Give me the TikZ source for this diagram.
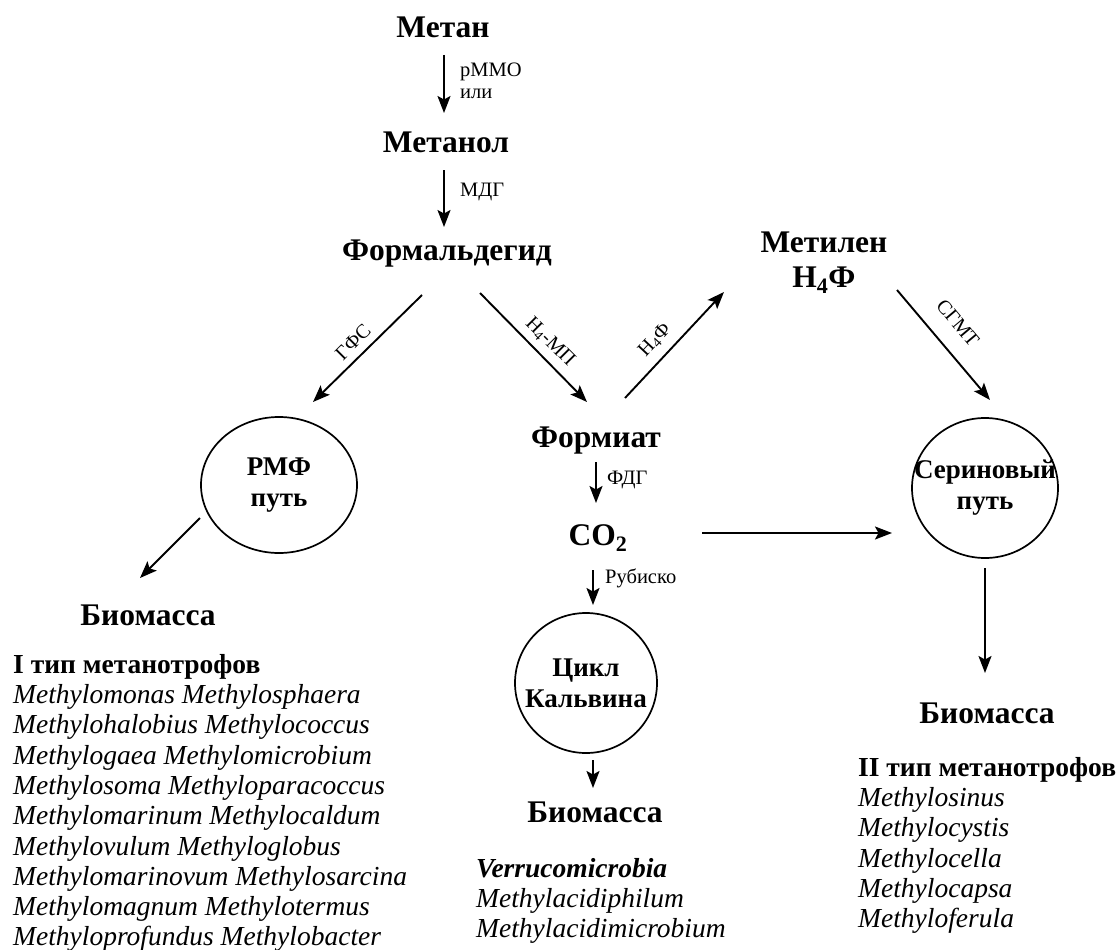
\documentclass[tikz,border=0pt]{standalone}
\usepackage{fontspec}
\setmainfont{Liberation Serif}
\usetikzlibrary{shapes.geometric,arrows.meta,calc}
\newcommand{\zb}[1]{\makebox[0pt]{#1}}
\begin{document}
\begin{tikzpicture}[x=1pt,y=-1pt,
  big/.style={font=\fontsize{31.5}{36}\selectfont\bfseries, inner sep=0pt, text height=20.5pt, text depth=0pt},
  bigm/.style={font=\fontsize{31.5}{35}\selectfont\bfseries, inner sep=0pt, align=center, anchor=north},
  lab/.style={font=\fontsize{20.5}{22.5}\selectfont, inner sep=0pt, anchor=west, align=left},
  slab/.style={font=\fontsize{20}{22}\selectfont, inner sep=0pt},
  cyc/.style={draw, line width=1.7pt, ellipse, inner sep=0pt, minimum width=146pt, minimum height=140pt, font=\fontsize{27}{31}\selectfont\bfseries, align=center},
  arr/.style={-{Stealth[length=17pt,width=13pt,inset=3.5pt]}, line width=1.9pt},
  list/.style={font=\fontsize{27.5}{30.3}\selectfont\itshape, inner sep=0pt, align=left, anchor=north west},
]
\useasboundingbox (0,0) rectangle (1119,950);

% main nodes
\node[big] (metan) at (443,27) {Метан};
\node[big] (metanol) at (446,142) {Метанол};
\node[big] (formald) at (447,250) {Формальдегид};
\node[bigm] (metilen) at (824,232) {Метилен\\H\textsubscript{4}Ф};
\node[big] (formiat) at (596,437) {Формиат};
\node[big] (co2) at (598,535) {CO\textsubscript{2}};
\node[big] (bio1) at (148,615) {Биомасса};
\node[big] (bio2) at (595,812) {Биомасса};
\node[big] (bio3) at (987,713) {Биомасса};

% cycles
\node[cyc, minimum width=156pt, minimum height=136pt] (rmf) at (279,485) {\zb{РМФ}\\\zb{путь}};
\node[cyc, minimum width=142pt] (calvin) at (586,683) {\zb{Цикл}\\\zb{Кальвина}};
\node[cyc] (serin) at (985,488) {\zb{Сериновый}\\\zb{путь}};

% enzyme labels
\node[lab] (e1) at (460,81) {pMMO\\или};
\node[lab] (e2) at (460,192) {МДГ};
\node[lab] (e3) at (607,480) {ФДГ};
\node[lab] (e4) at (605,578) {Рубиско};
\node[slab, rotate=45] (e5) at (353,342) {ГФС};
\node[slab, rotate=-45] (e6) at (550,342) {H\textsubscript{4}-МП};
\node[slab, rotate=47] (e7) at (655,340) {H\textsubscript{4}Ф};
\node[slab, rotate=-50] (e8) at (958,323) {СГМТ};

% arrows
\draw[arr] ($(metan)+(1,28)$) -- ($(metanol)+(-2,-29)$);
\draw[arr] ($(metanol)+(-2,28)$) -- ($(formald)+(-3,-23)$);
\draw[arr] ($(formald)+(-25,45)$) -- ($(rmf)+(34,-83)$);
\draw[arr] ($(formald)+(33,43)$) -- ($(formiat)+(-9,-35)$);
\draw[arr] ($(formiat)+(29,-39)$) -- ($(metilen.north)+(-100,60)$);
\draw[arr] ($(metilen.north)+(73,58)$) -- ($(serin)+(5,-88)$);
\draw[arr] ($(formiat)+(0,25)$) -- ($(co2)+(-2,-32)$);
\draw[arr] ($(co2)+(-5,35)$) -- ($(calvin)+(7,-78)$);
\draw[arr] ($(co2)+(104,-2)$) -- ($(serin)+(-93,45)$);
\draw[arr] ($(calvin)+(7,77)$) -- ($(bio2)+(-2,-24)$);
\draw[arr] ($(rmf)+(-79,33)$) -- ($(bio1)+(-8,-37)$);
\draw[arr] ($(serin)+(0,80)$) -- ($(bio3)+(-2,-40)$);

% lists
\node[list] (list1) at (13,654) {{\upshape\bfseries I тип метанотрофов}\\
Methylomonas Methylosphaera\\
Methylohalobius Methylococcus\\
Methylogaea Methylomicrobium\\
Methylosoma Methyloparacoccus\\
Methylomarinum Methylocaldum\\
Methylovulum Methyloglobus\\
Methylomarinovum Methylosarcina\\
Methylomagnum Methylotermus\\
Methyloprofundus Methylobacter};
\node[list] (list2) at (476,858) {{\bfseries Verrucomicrobia}\\
Methylacidiphilum\\
Methylacidimicrobium};
\node[list] (list3) at (858,757) {{\upshape\bfseries II тип метанотрофов}\\
Methylosinus\\
Methylocystis\\
Methylocella\\
Methylocapsa\\
Methyloferula};
\end{tikzpicture}
\end{document}
